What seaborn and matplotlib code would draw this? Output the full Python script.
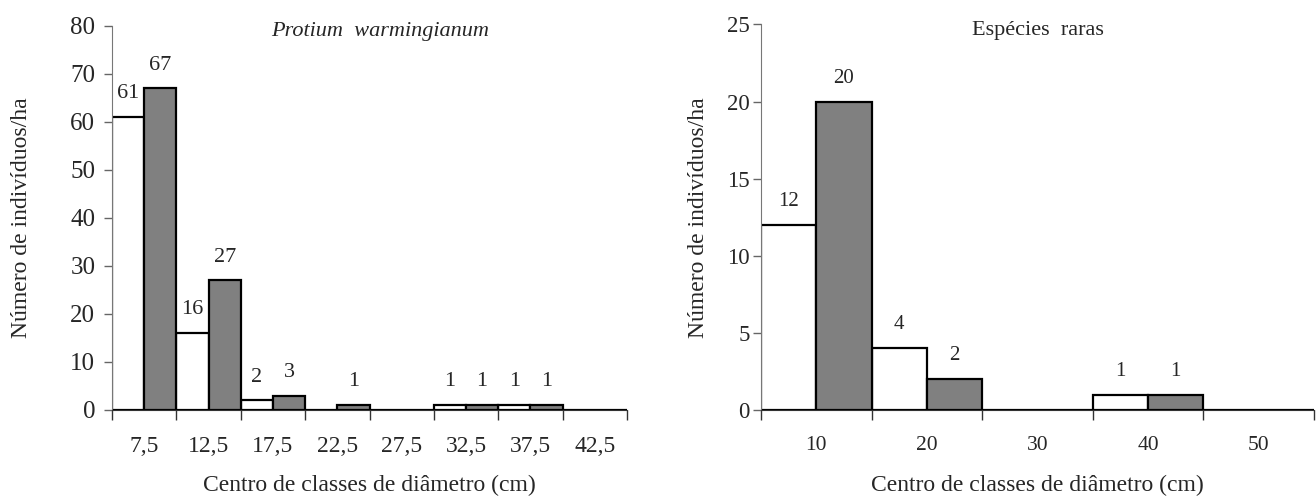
import pandas as pd
import numpy as np
import seaborn as sns
import matplotlib.pyplot as plt

# dados
classes_prot = ['7,5', '12,5', '17,5', '22,5', '27,5', '32,5', '37,5', '42,5']
prot_branco = [61, 16, 2, 0, 0, 1, 1, 0]
prot_cinza = [67, 27, 3, 1, 0, 1, 1, 0]

classes_raras = ['10', '20', '30', '40', '50']
raras_branco = [12, 4, 0, 1, 0]
raras_cinza = [20, 2, 0, 1, 0]

sns.set_style('ticks')
plt.rcParams['font.family'] = ['Liberation Serif', 'DejaVu Serif']


def monta_tabela(classes, branco, cinza):
    df = pd.DataFrame({'classe': classes * 2,
                       'n': branco + cinza,
                       'serie': ['branco'] * len(classes) + ['cinza'] * len(classes)})
    return df


def desenha(ax, classes, branco, cinza, ymax, ystep, titulo, titulo_x, italico,
            ylab_x, ypad, fs_tick, fs_num):
    df = monta_tabela(classes, branco, cinza)
    sns.barplot(data=df, x='classe', y='n', hue='serie', order=classes,
                palette=['white', '#808080'], width=1.0, gap=0,
                edgecolor='black', linewidth=1.6, legend=False, ax=ax,
                saturation=1)
    for cont in ax.containers:
        vals = cont.datavalues
        ax.bar_label(cont, labels=[f'{v:g}' if v > 0 else '' for v in vals],
                     padding=10, fontsize=fs_num)
    n = len(classes)
    ax.set_xlim(-0.5, n - 0.5)
    ax.set_ylim(0, ymax)
    ax.set_yticks(np.arange(0, ymax + 1, ystep))
    ax.set_xticks(np.arange(n))
    ax.set_xticklabels(classes)
    ax.set_xticks(np.arange(n + 1) - 0.5, minor=True)
    ax.tick_params(axis='x', which='major', length=0, pad=19, labelsize=fs_tick)
    ax.tick_params(axis='x', which='minor', length=7, width=1, color='#333333')
    ax.tick_params(axis='y', length=6, width=1, color='#666666', pad=ypad,
                   labelsize=fs_tick + 1)
    sns.despine(ax=ax)
    ax.spines['left'].set_color('#777777')
    ax.spines['bottom'].set_color('#333333')
    ax.set_xlabel('Centro de classes de diâmetro (cm)', fontsize=17)
    ax.set_ylabel('Número de indivíduos/ha', fontsize=17)
    ax.xaxis.set_label_coords(0.5, -0.168)
    ax.yaxis.set_label_coords(ylab_x, 0.5)
    ax.text(titulo_x, 0.985, titulo, transform=ax.transAxes, ha='center', va='center',
            fontsize=16, style='italic' if italico else 'normal')


fig = plt.figure(figsize=(13.16, 4.97), dpi=100)
ax1 = fig.add_axes([112 / 1316, 87 / 497, 515 / 1316, 384 / 497])
ax2 = fig.add_axes([761 / 1316, 87 / 497, 553 / 1316, 385.5 / 497])

desenha(ax1, classes_prot, prot_branco, prot_cinza, 80, 10,
        'Protium  warmingianum', 0.52, True, -0.155, 6, 17, 16)
desenha(ax2, classes_raras, raras_branco, raras_cinza, 25, 5,
        'Espécies  raras', 0.5, False, -0.094, 2, 15.5, 15)

fig.savefig('out.png', dpi=100)
